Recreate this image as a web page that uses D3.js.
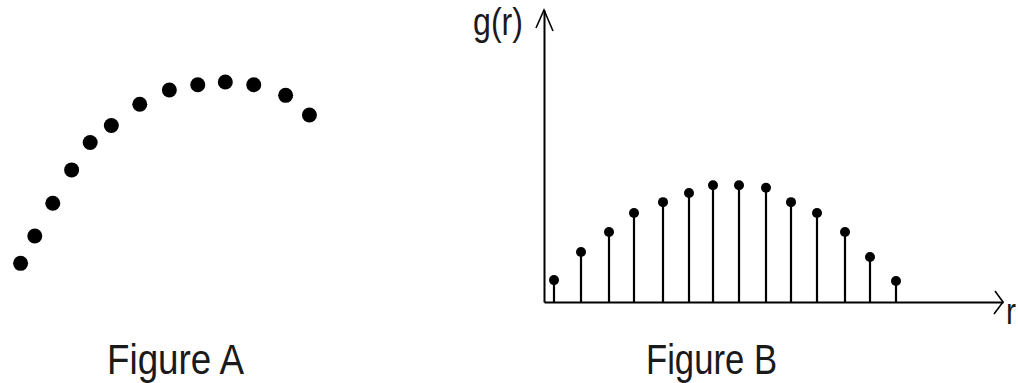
<!DOCTYPE html>
<html lang="en">
<head>
  <meta charset="UTF-8">
  <title>Figure A and Figure B</title>
  <script src="https://d3js.org/d3.v7.min.js"></script>
  <style>
    body { margin: 0; background: #fff; }
    svg { display: block; }
    .label { font-family: 'Liberation Sans', Arial, sans-serif; fill: #1a1a1a; }
  </style>
</head>
<body>
<script>
  // Figure A: scattered points along an arc (arbitrary units)
  const aX = [0.02, 0.51, 1.13, 1.78, 2.42, 3.15, 4.13, 5.15, 6.13, 7.08, 8.06, 9.16, 9.98];
  const aY = [0.09, 1.57, 3.34, 5.14, 6.62, 7.54, 8.69, 9.46, 9.74, 9.89, 9.74, 9.17, 8.11];

  // Figure B: sampled g(r)
  const bR = [0.4, 1.4, 2.5, 3.45, 4.55, 5.55, 6.45, 7.45, 8.5, 9.45, 10.45, 11.5, 12.45, 13.45];
  const bG = [0.75, 1.71, 2.40, 3.05, 3.42, 3.73, 4.00, 4.00, 3.91, 3.42, 3.05, 2.40, 1.54, 0.72];

  const captions = ['Figure A', 'Figure B'];
  const axisLabels = ['g(r)', 'r'];

  const width = 1018, height = 383;
  const svg = d3.select('body').append('svg')
    .attr('width', width)
    .attr('height', height);

  // ---- Figure A
  const xA = d3.scaleLinear().domain([0, 10]).range([20, 310]);
  const yA = d3.scaleLinear().domain([0, 10]).range([265, 80]);

  svg.append('g').selectAll('circle')
    .data(aX.map((x, i) => ({ x: x, y: aY[i] })))
    .enter().append('circle')
    .attr('cx', d => xA(d.x))
    .attr('cy', d => yA(d.y))
    .attr('r', 7.5)
    .attr('fill', '#000');

  // ---- Figure B
  const xB = d3.scaleLinear().domain([0, 17.55]).range([544, 1003]);
  const yB = d3.scaleLinear().domain([0, 10]).range([302, 10]);

  const gB = svg.append('g');

  // axes, no ticks
  gB.append('g')
    .attr('transform', `translate(0,${yB(0)})`)
    .call(d3.axisBottom(xB).ticks(0).tickSizeOuter(0))
    .select('.domain').attr('stroke', '#000').attr('stroke-width', 2);

  gB.append('g')
    .attr('transform', `translate(${xB(0)},0)`)
    .call(d3.axisLeft(yB).ticks(0).tickSizeOuter(0))
    .select('.domain').attr('stroke', '#000').attr('stroke-width', 2);

  // arrow heads
  const x1 = xB.range()[1], y0 = yB(0);
  gB.append('path')
    .attr('d', `M${x1 - 8},${y0 - 11}L${x1},${y0}L${x1 - 9},${y0 + 12}`)
    .attr('fill', 'none').attr('stroke', '#000').attr('stroke-width', 1.6);

  const xa = xB(0), ytop = yB.range()[1];
  gB.append('path')
    .attr('d', `M${xa - 8},${ytop + 18}L${xa},${ytop}L${xa + 9},${ytop + 21}`)
    .attr('fill', 'none').attr('stroke', '#000').attr('stroke-width', 1.6);

  const pts = bR.map((r, i) => ({ r: r, g: bG[i] }));

  gB.append('g').selectAll('line')
    .data(pts)
    .enter().append('line')
    .attr('x1', d => Math.round(xB(d.r)))
    .attr('x2', d => Math.round(xB(d.r)))
    .attr('y1', yB(0))
    .attr('y2', d => yB(d.g))
    .attr('stroke', '#000')
    .attr('stroke-width', 2.2);

  gB.append('g').selectAll('circle')
    .data(pts)
    .enter().append('circle')
    .attr('cx', d => Math.round(xB(d.r)))
    .attr('cy', d => yB(d.g))
    .attr('r', 5)
    .attr('fill', '#000');

  // labels (condensed via textLength to match the narrow face)
  svg.append('text').attr('class', 'label')
    .attr('x', 473).attr('y', 35)
    .attr('font-size', 38)
    .attr('textLength', 50).attr('lengthAdjust', 'spacingAndGlyphs')
    .text(axisLabels[0]);

  svg.append('text').attr('class', 'label')
    .attr('x', 1006).attr('y', 324)
    .attr('font-size', 36)
    .attr('textLength', 10).attr('lengthAdjust', 'spacingAndGlyphs')
    .text(axisLabels[1]);

  svg.append('text').attr('class', 'label')
    .attr('x', 107).attr('y', 374)
    .attr('font-size', 42)
    .attr('textLength', 137).attr('lengthAdjust', 'spacingAndGlyphs')
    .text(captions[0]);

  svg.append('text').attr('class', 'label')
    .attr('x', 646).attr('y', 374)
    .attr('font-size', 42)
    .attr('textLength', 131).attr('lengthAdjust', 'spacingAndGlyphs')
    .text(captions[1]);
</script>
</body>
</html>
